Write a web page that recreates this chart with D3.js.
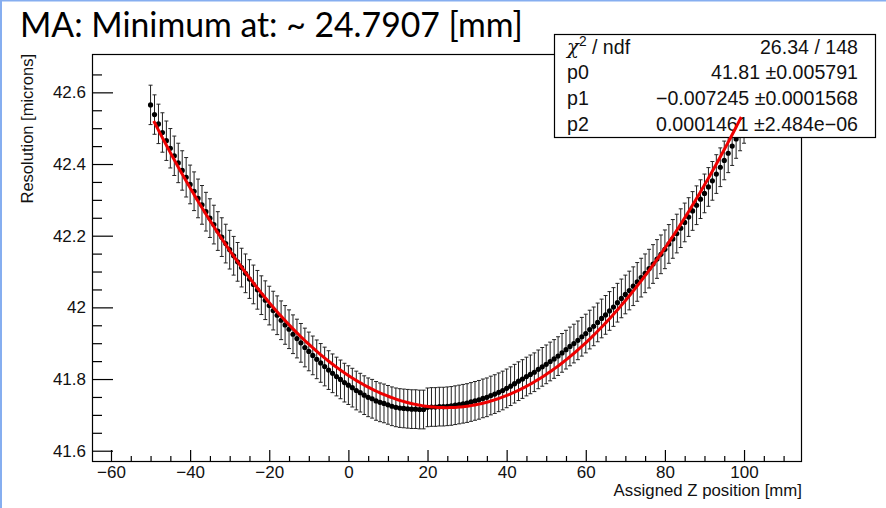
<!DOCTYPE html>
<html>
<head>
<meta charset="utf-8">
<script src="https://cdn.jsdelivr.net/npm/d3@7"></script>
<style>
  html, body { margin: 0; padding: 0; background: #ffffff; }
  svg { display: block; }
</style>
</head>
<body>
<svg id="chart" width="886" height="508"></svg>
<script>
// ---------------- DATA ----------------
const titleText = "MA: Minimum at: ~ 24.7907 [mm]";
const xAxisTitle = "Assigned Z position [mm]";
const yAxisTitle = "Resolution [microns]";

const zPosition = [
  -50,-49,-48,-47,-46,-45,-44,-43,-42,-41,
  -40,-39,-38,-37,-36,-35,-34,-33,-32,-31,
  -30,-29,-28,-27,-26,-25,-24,-23,-22,-21,
  -20,-19,-18,-17,-16,-15,-14,-13,-12,-11,
  -10,-9,-8,-7,-6,-5,-4,-3,-2,-1,
  0,1,2,3,4,5,6,7,8,9,
  10,11,12,13,14,15,16,17,18,19,
  20,21,22,23,24,25,26,27,28,29,
  30,31,32,33,34,35,36,37,38,39,
  40,41,42,43,44,45,46,47,48,49,
  50,51,52,53,54,55,56,57,58,59,
  60,61,62,63,64,65,66,67,68,69,
  70,71,72,73,74,75,76,77,78,79,
  80,81,82,83,84,85,86,87,88,89,
  90,91,92,93,94,95,96,97,98,99,
  100
];

const resolution = [
  42.565,42.538,42.512,42.488,42.465,42.444,42.423,42.403,42.382,42.363,
  42.343,42.324,42.304,42.286,42.267,42.249,42.231,42.213,42.196,42.178,
  42.161,42.144,42.127,42.111,42.095,42.079,42.064,42.049,42.034,42.020,
  42.005,41.991,41.978,41.964,41.951,41.939,41.925,41.913,41.901,41.888,
  41.877,41.866,41.855,41.845,41.835,41.825,41.816,41.807,41.799,41.790,
  41.783,41.776,41.768,41.762,41.755,41.749,41.745,41.739,41.735,41.732,
  41.728,41.724,41.721,41.719,41.718,41.717,41.716,41.716,41.715,41.715,
  41.721,41.722,41.722,41.723,41.723,41.724,41.725,41.727,41.729,41.731,
  41.733,41.736,41.739,41.742,41.746,41.749,41.754,41.758,41.763,41.768,
  41.774,41.780,41.787,41.794,41.800,41.807,41.813,41.819,41.827,41.834,
  41.841,41.849,41.856,41.864,41.873,41.882,41.891,41.899,41.908,41.918,
  41.927,41.938,41.947,41.958,41.969,41.979,41.990,42.001,42.013,42.025,
  42.036,42.047,42.059,42.071,42.083,42.095,42.108,42.121,42.135,42.148,
  42.162,42.177,42.191,42.206,42.221,42.237,42.252,42.269,42.285,42.302,
  42.318,42.336,42.353,42.372,42.391,42.410,42.430,42.450,42.470,42.491,
  42.512
];

const resolutionErr = [
  0.055,0.055,0.055,0.055,0.055,0.055,0.055,0.055,0.055,0.055,
  0.054,0.054,0.054,0.054,0.054,0.054,0.054,0.054,0.054,0.054,
  0.054,0.054,0.054,0.054,0.054,0.054,0.054,0.054,0.054,0.054,
  0.054,0.054,0.054,0.054,0.054,0.054,0.054,0.054,0.054,0.054,
  0.054,0.054,0.054,0.054,0.054,0.054,0.054,0.054,0.054,0.054,
  0.054,0.054,0.054,0.054,0.054,0.054,0.054,0.054,0.054,0.054,
  0.054,0.054,0.054,0.054,0.054,0.054,0.054,0.054,0.054,0.054,
  0.054,0.054,0.054,0.054,0.054,0.054,0.054,0.054,0.054,0.054,
  0.054,0.054,0.054,0.054,0.054,0.054,0.054,0.054,0.054,0.054,
  0.054,0.054,0.054,0.054,0.054,0.054,0.054,0.054,0.054,0.054,
  0.054,0.054,0.054,0.054,0.054,0.054,0.054,0.054,0.054,0.054,
  0.054,0.054,0.054,0.054,0.054,0.054,0.054,0.054,0.054,0.054,
  0.054,0.054,0.054,0.054,0.054,0.054,0.054,0.054,0.054,0.054,
  0.054,0.054,0.054,0.054,0.054,0.054,0.054,0.054,0.054,0.054,
  0.054,0.054,0.054,0.054,0.054,0.054,0.054,0.054,0.054,0.054,
  0.054
];

// fit: pol2  p0 + p1*x + p2*x^2
const fitParams = [41.81, -0.007245, 0.0001461];
const fitRange = [-49.2, 99.3];

const xTickValues = [-60, -40, -20, 0, 20, 40, 60, 80, 100];
const xTickLabels = ["\u221260", "\u221240", "\u221220", "0", "20", "40", "60", "80", "100"];
const yTickValues = [41.6, 41.8, 42.0, 42.2, 42.4, 42.6];
const yTickLabels = ["41.6", "41.8", "42", "42.2", "42.4", "42.6"];

const statNames = ["chi2", "p0", "p1", "p2"];
const statValues = ["26.34 / 148", "41.81 \u00B10.005791", "\u22120.007245 \u00B10.0001568", "0.0001461 \u00B12.484e\u221206"];

// ---------------- LAYOUT ----------------
const W = 886, H = 508;
const frame = { left: 92, right: 802, top: 54, bottom: 462 };
const xDomain = [-64.8, 114.65];
const yDomain = [41.5685, 42.707];
const axisFont = "'Liberation Sans', Arial, Helvetica, sans-serif";

const svg = d3.select("#chart");
svg.append("rect").attr("width", W).attr("height", H).attr("fill", "#ffffff");

const x = d3.scaleLinear().domain(xDomain).range([frame.left, frame.right]);
const y = d3.scaleLinear().domain(yDomain).range([frame.bottom, frame.top]);

// frame
svg.append("rect")
  .attr("x", frame.left + 0.5).attr("y", frame.top + 0.5)
  .attr("width", frame.right - frame.left - 1).attr("height", frame.bottom - frame.top - 1)
  .attr("fill", "none").attr("stroke", "#000").attr("stroke-width", 1.2);

// x axis minor ticks
const xMinor = d3.range(-60, 115, 5).filter(v => v % 20 !== 0 || v > 100);
const gxMinor = svg.append("g").attr("transform", `translate(0,${frame.bottom})`)
  .call(d3.axisBottom(x).tickValues(xMinor).tickSizeInner(-6).tickSizeOuter(0).tickFormat(""));
gxMinor.select(".domain").remove();

const gx = svg.append("g").attr("transform", `translate(0,${frame.bottom})`)
  .call(d3.axisBottom(x).tickValues(xTickValues).tickSizeInner(-12).tickSizeOuter(0).tickPadding(4)
    .tickFormat((d, i) => xTickLabels[i]));
gx.select(".domain").remove();
gx.selectAll("text").attr("font-family", axisFont).attr("font-size", 17).attr("fill", "#111");

// y axis minor ticks
const yMinor = d3.range(41.60, 42.69, 0.05).map(v => +v.toFixed(2)).filter(v => Math.abs((v - 41.6) / 0.2 - Math.round((v - 41.6) / 0.2)) > 0.01);
const gyMinor = svg.append("g").attr("transform", `translate(${frame.left},0)`)
  .call(d3.axisLeft(y).tickValues(yMinor).tickSizeInner(-10).tickSizeOuter(0).tickFormat(""));
gyMinor.select(".domain").remove();

const gy = svg.append("g").attr("transform", `translate(${frame.left},0)`)
  .call(d3.axisLeft(y).tickValues(yTickValues).tickSizeInner(-21).tickSizeOuter(0).tickPadding(6)
    .tickFormat((d, i) => yTickLabels[i]));
gy.select(".domain").remove();
gy.selectAll("text").attr("font-family", axisFont).attr("font-size", 17).attr("fill", "#111");

svg.selectAll(".tick line").attr("stroke", "#000").attr("stroke-width", 1.2);

// axis titles
svg.append("text")
  .attr("x", frame.right).attr("y", 495.5)
  .attr("text-anchor", "end")
  .attr("font-family", axisFont).attr("font-size", 16.8).attr("fill", "#111")
  .text(xAxisTitle);

svg.append("text")
  .attr("transform", `translate(33,${frame.top}) rotate(-90)`)
  .attr("text-anchor", "end")
  .attr("font-family", axisFont).attr("font-size", 16.5).attr("fill", "#111")
  .text(yAxisTitle);

// data: error bars + markers
const pts = zPosition.map((z, i) => ({ z, v: resolution[i], e: resolutionErr[i] }));
const gData = svg.append("g");
const cap = 2;
pts.forEach(p => {
  const px = x(p.z), yt = y(p.v + p.e), yb = y(p.v - p.e);
  gData.append("line").attr("x1", px).attr("x2", px).attr("y1", yt).attr("y2", yb)
    .attr("stroke", "#222").attr("stroke-width", 1);
  gData.append("line").attr("x1", px - cap).attr("x2", px + cap).attr("y1", yt).attr("y2", yt)
    .attr("stroke", "#222").attr("stroke-width", 1);
  gData.append("line").attr("x1", px - cap).attr("x2", px + cap).attr("y1", yb).attr("y2", yb)
    .attr("stroke", "#222").attr("stroke-width", 1);
});
gData.selectAll("circle").data(pts).enter().append("circle")
  .attr("cx", d => x(d.z)).attr("cy", d => y(d.v)).attr("r", 2.6).attr("fill", "#000");

// stats box
const box = { x: 554, y: 34, w: 321, h: 103 };
svg.append("rect").attr("x", box.x + 0.5).attr("y", box.y + 0.5).attr("width", box.w).attr("height", box.h)
  .attr("fill", "#fff").attr("stroke", "#000").attr("stroke-width", 1.2);
const rowH = box.h / statNames.length;
const statFont = 19.6;
statNames.forEach((name, i) => {
  const cy = box.y + rowH * (i + 0.5);
  const lbl = svg.append("text").attr("x", box.x + 13).attr("y", cy + statFont * 0.35)
    .attr("font-family", axisFont).attr("font-size", statFont).attr("fill", "#111");
  if (name === "chi2") {
    lbl.append("tspan").attr("font-family", "'DejaVu Serif', serif").attr("font-style", "italic").text("\u03C7");
    lbl.append("tspan").attr("font-size", statFont * 0.7).attr("dy", -8).text("2");
    lbl.append("tspan").attr("dy", 8).text(" / ndf");
  } else {
    lbl.text(name);
  }
  svg.append("text").attr("x", box.x + 304).attr("y", cy + statFont * 0.35)
    .attr("text-anchor", "end")
    .attr("font-family", axisFont).attr("font-size", statFont).attr("fill", "#111")
    .text(statValues[i]);
});

// fit curve (drawn on top)
const fitFn = z => fitParams[0] + fitParams[1] * z + fitParams[2] * z * z;
const fitPts = d3.range(0, 301).map(k => fitRange[0] + (fitRange[1] - fitRange[0]) * k / 300);
svg.append("path")
  .datum(fitPts)
  .attr("fill", "none").attr("stroke", "#ee0000").attr("stroke-width", 3)
  .attr("d", d3.line().x(z => x(z)).y(z => y(fitFn(z))));

// title
const title = svg.append("text")
  .attr("x", 20).attr("y", 37)
  .attr("font-family", "Lato, 'Open Sans', sans-serif").attr("font-size", 36).attr("fill", "#000")
  .text(titleText);
const tl = title.node().getComputedTextLength();
title.attr("font-size", 36 * 503 / tl);

// blue window edge
svg.append("rect").attr("x", 0).attr("y", 0).attr("width", 2).attr("height", H).attr("fill", "#86aef0");
svg.append("rect").attr("x", 0).attr("y", 0).attr("width", W).attr("height", 1.5).attr("fill", "#86aef0");
</script>
</body>
</html>
